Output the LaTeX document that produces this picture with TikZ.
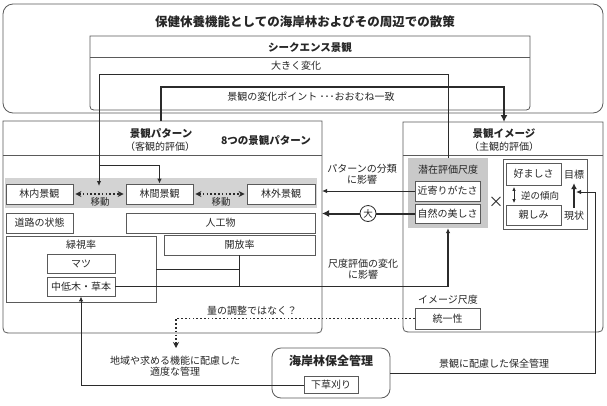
\documentclass[tikz,border=0pt]{standalone}
\usepackage{fontspec}
\setmainfont{Noto Sans CJK JP}
\usetikzlibrary{arrows.meta}
\definecolor{ln}{HTML}{2B2B2B}
\definecolor{bd}{HTML}{5A5A5A}
\definecolor{bandgray}{HTML}{D3D3D3}
\definecolor{szgray}{HTML}{C9C9C9}
\definecolor{txt}{HTML}{262626}
\begin{document}
\begin{tikzpicture}[x=1pt,y=-1pt,
  every node/.style={font=\fontsize{10}{12}\selectfont, text=txt},
  hb/.style={font=\fontsize{10.5}{12}\selectfont\bfseries},
  frame/.style={draw=bd, line width=0.8pt},
  bx/.style={draw=bd, fill=white, line width=0.8pt, inner sep=0pt},
  ar/.style={draw=ln, line width=1pt, -{Latex[length=5pt,width=4.5pt]}},
  plain/.style={draw=ln, line width=1pt},
  thk/.style={draw=ln, line width=2pt, -{Latex[length=7pt,width=7pt]}},
  dotln/.style={draw=ln, line width=1.6pt, dash pattern=on 1.6pt off 2.2pt},
  dotdbl/.style={dotln, {Stealth[length=6pt,width=6pt,inset=2pt]}-{Stealth[length=6pt,width=6pt,inset=2pt]}, shorten <=2pt, shorten >=2pt},
  dotar/.style={dotln, -{Stealth[length=6pt,width=6pt,inset=2pt]}}
]
\useasboundingbox (0,0) rectangle (607,405);
\fill[white] (0,0) rectangle (607,405);

% ---------- top frame ----------
\draw[frame, rounded corners=10pt] (3,4) rectangle (603,113);
\node[font=\fontsize{12.5}{14}\selectfont\bfseries] (title) at (305,22) {保健休養機能としての海岸林およびその周辺での散策};
\draw[frame] (90,36) -- (530,36) -- (530,102) .. controls (530,110) .. (522,110) -- (98,110) .. controls (90,110) .. (90,102) -- cycle;
\draw[frame] (90,57) -- (530,57);
\node[hb] (seq) at (310,47) {シークエンス景観};
\node (ookiku) at (296,66) {大きく変化};
\node (point) at (311,97) {景観の変化ポイント ･･･おおむね一致};

% ---------- left frame ----------
\draw[frame] (3,121) -- (322,121) -- (322,323) .. controls (322,333) .. (312,333) -- (13,333) .. controls (3,333) .. (3,323) -- cycle;
\draw[frame] (3,155) -- (322,155);
\fill[bandgray] (5,178) rectangle (317,208);
\node[hb] (pathead) at (161,133) {景観パターン};
\node (patsub) at (160,147) {（客観的評価）};
\node[hb] (eight) at (266,140) {8つの景観パターン};

\node[bx, minimum width=67, minimum height=20] (rinnai) at (39.5,194) {林内景観};
\node[bx, minimum width=67, minimum height=20] (rinkan) at (159.5,194) {林間景観};
\node[bx, minimum width=68, minimum height=20] (ringai) at (281,194) {林外景観};
\draw[dotdbl] (rinnai.east) -- (rinkan.west);
\draw[dotdbl] (rinkan.east) -- (ringai.west);
\node[font=\fontsize{9.5}{10}\selectfont] (idou1) at (100,201.5) {移動};
\node[font=\fontsize{9.5}{10}\selectfont] (idou2) at (221,201.5) {移動};

\node[bx, minimum width=67, minimum height=20] (douro) at (39.5,223) {道路の状態};
\node[bx, minimum width=189, minimum height=20] (jinkou) at (220.5,223) {人工物};
\node[bx, minimum width=150, minimum height=66] (ryoku) at (81,269) {};
\node (ryokulbl) at (81,245) {緑視率};
\node[bx, minimum width=68, minimum height=19] (matsu) at (81,263.5) {マツ};
\node[bx, minimum width=68, minimum height=19] (chuutei) at (81,286.5) {中低木・草本};
\node[bx, minimum width=151, minimum height=20] (kaihou) at (239.5,245) {開放率};

% ---------- right frame ----------
\draw[frame] (403,122) -- (603,122) -- (603,322) .. controls (603,332) .. (593,332) -- (413,332) .. controls (403,332) .. (403,322) -- cycle;
\draw[frame] (403,155) -- (603,155);
\node[hb] (imghead) at (504,133) {景観イメージ};
\node (imgsub) at (504,147) {（主観的評価）};

\node[fill=szgray, minimum width=80, minimum height=70, inner sep=0pt] (senzai) at (448,193) {};
\node (senzailbl) at (448,170) {潜在評価尺度};
\node[bx, minimum width=65, minimum height=20] (chikayori) at (447.5,191) {近寄りがたさ};
\node[bx, minimum width=65, minimum height=19] (shizen) at (447.5,213.5) {自然の美しさ};
\node[font=\fontsize{15}{15}\selectfont] (times) at (496,202) {×};

\node[draw=bd, line width=0.8pt, minimum width=84, minimum height=70, inner sep=0pt] (subbox) at (545,194) {};
\node[bx, minimum width=55, minimum height=22] (konomashi) at (533.5,174) {好ましさ};
\node[bx, minimum width=55, minimum height=20] (shitashimi) at (533.5,215) {親しみ};
\draw[draw=ln, line width=0.9pt, {Latex[length=4pt,width=3.5pt]}-{Latex[length=4pt,width=3.5pt]}] ([xshift=-19.5pt,yshift=-1.5pt]konomashi.south) -- ([xshift=-19.5pt,yshift=1.5pt]shitashimi.north);
\node[font=\fontsize{9.5}{10}\selectfont] (gyaku) at (540,196) {逆の傾向};
\node (mokuhyou) at (574,175) {目標};
\node (genjou) at (574,216) {現状};
\draw[thk, -{Latex[length=6pt,width=6pt]}] (genjou.north) -- (mokuhyou.south);

\node (imgshaku) at (448,300) {イメージ尺度};
\node[bx, minimum width=65, minimum height=21] (touitsu) at (447.5,318.5) {統一性};

% ---------- management ----------
\node[draw=bd, line width=0.8pt, rounded corners=9pt, minimum width=118, minimum height=50, inner sep=0pt] (kanri) at (331,373) {};
\node[font=\fontsize{12}{14}\selectfont\bfseries] (kanrilbl) at (331,361) {海岸林保全管理};
\node[bx, minimum width=54, minimum height=17] (shitakusa) at (331,385) {下草刈り};

% ---------- coordinates ----------
\coordinate (tl) at (99,74);
\coordinate (mv1) at (99,186);
\coordinate (br) at (99,165);
\coordinate (ptop) at (161,121);
\coordinate (th) at (161,87);
\coordinate (imgtop) at (504,122);
\coordinate (lbE1) at (322,191);
\coordinate (lbE2) at (322,213.5);
\coordinate (dq) at (176,348);
\coordinate (rc) at (595,192);
\coordinate (tipG) at (576,192);

% ---------- connectors ----------
\draw[ar] (senzai.north) |- (tl) -- (mv1);
\draw[ar] (br) -| (rinkan.north);
\draw[thk] (ptop) |- (th) -| (imgtop);

\draw[ar] (chikayori.west) -- (lbE1);
\node (bunrui) at (362,176) {\begin{tabular}{@{}c@{}}パターンの分類\\[-1pt]に影響\end{tabular}};
\draw[thk] (shizen.west) -- (lbE2);
\node[circle, draw=ln, line width=0.8pt, fill=white, inner sep=0pt, minimum size=16pt, font=\fontsize{9.5}{10}\selectfont] (dai) at (368,213.5) {大};

\draw[plain] (ryoku.east) -- (ryoku.east -| kaihou.south);
\draw[plain] (kaihou.south) -- (kaihou.south |- chuutei.east);
\draw[ar, line width=1.2pt] (chuutei.east) -| (senzai.south);
\node (henka) at (363,271) {\begin{tabular}{@{}c@{}}尺度評価の変化\\[-1pt]に影響\end{tabular}};

\draw[dotar] (touitsu.west) -| (dq);
\node (ryou) at (252,311) {量の調整ではなく？};

\draw[ar] (shitakusa.west) -| (chuutei.south);
\node (chiiki) at (175,368) {\begin{tabular}{@{}c@{}}地域や求める機能に配慮した\\[-1pt]適度な管理\end{tabular}};

\draw[ar] (kanri.east) -| (rc) -- (tipG);
\node (hairyo) at (494,364) {景観に配慮した保全管理};
\end{tikzpicture}
\end{document}
